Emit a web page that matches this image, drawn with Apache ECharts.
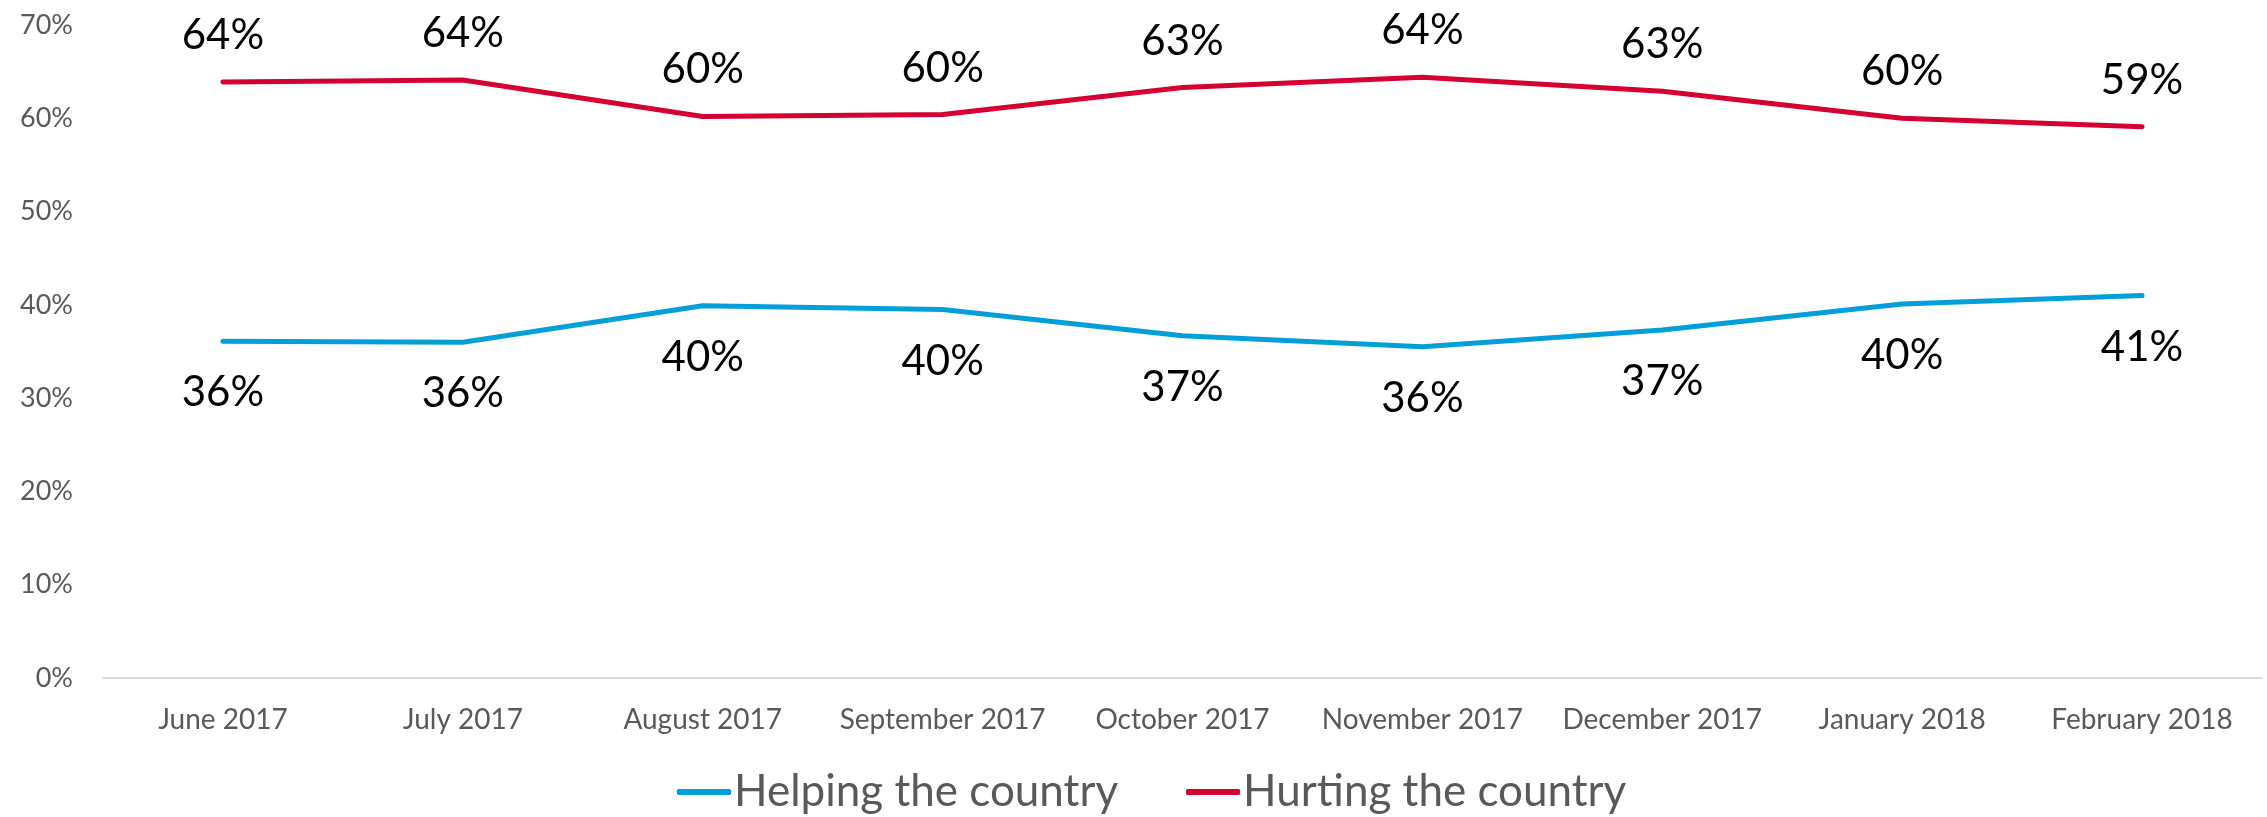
<!DOCTYPE html>
<html>
<head>
<meta charset="utf-8">
<script src="https://cdn.jsdelivr.net/npm/echarts@6/dist/echarts.min.js"></script>
<style>
html,body{margin:0;padding:0;background:#fff;}
#chart{width:2267px;height:817px;}
</style>
</head>
<body>
<div id="chart"></div>
<script>
const categories = ['June 2017','July 2017','August 2017','September 2017','October 2017','November 2017','December 2017','January 2018','February 2018'];
const helping = [36.1, 36.0, 39.9, 39.5, 36.7, 35.5, 37.3, 40.1, 41.0];
const hurting = [63.9, 64.1, 60.2, 60.4, 63.3, 64.4, 62.9, 60.0, 59.1];
const seriesNames = ['Helping the country', 'Hurting the country'];
const yTicks = {min: 0, max: 70, interval: 10};

const chart = echarts.init(document.getElementById('chart'));
const FONT = 'Lato';
const labelFmt = p => Math.round(p.value) + '%';
chart.setOption({
  animation: false,
  backgroundColor: '#ffffff',
  grid: {left: 103, right: 5, top: 25, bottom: 139, containLabel: false},
  legend: {
    bottom: -2,
    left: 672,
    itemWidth: 54,
    itemHeight: 6,
    itemGap: 68,
    icon: 'roundRect',
    textStyle: {fontFamily: FONT, fontSize: 44, color: '#595959', padding: [0,0,0,-2]},
    data: seriesNames
  },
  xAxis: {
    type: 'category',
    data: categories,
    boundaryGap: true,
    axisLine: {show: true, lineStyle: {color: '#d9d9d9', width: 2}},
    axisTick: {show: false},
    axisLabel: {fontFamily: FONT, fontSize: 28, color: '#595959', margin: 28, interval: 0}
  },
  yAxis: {
    type: 'value',
    min: yTicks.min, max: yTicks.max, interval: yTicks.interval,
    axisLine: {show: false},
    axisTick: {show: false},
    splitLine: {show: false},
    axisLabel: {fontFamily: FONT, fontSize: 27, color: '#595959', margin: 30, formatter: '{value}%'}
  },
  series: [
    {
      name: seriesNames[0], type: 'line', data: helping,
      symbol: 'circle', symbolSize: 1, showSymbol: true,
      color: '#009fda',
      itemStyle: {color: '#009fda'},
      lineStyle: {width: 5, color: '#009fda', cap: 'round'},
      label: {show: true, position: 'bottom', distance: 30, formatter: labelFmt,
        fontFamily: FONT, fontSize: 42, color: '#000000'}
    },
    {
      name: seriesNames[1], type: 'line', data: hurting,
      symbol: 'circle', symbolSize: 1, showSymbol: true,
      color: '#d50032',
      itemStyle: {color: '#d50032'},
      lineStyle: {width: 5, color: '#d50032', cap: 'round'},
      label: {show: true, position: 'top', distance: 25, formatter: labelFmt,
        fontFamily: FONT, fontSize: 42, color: '#000000'}
    }
  ]
});
</script>
</body>
</html>
